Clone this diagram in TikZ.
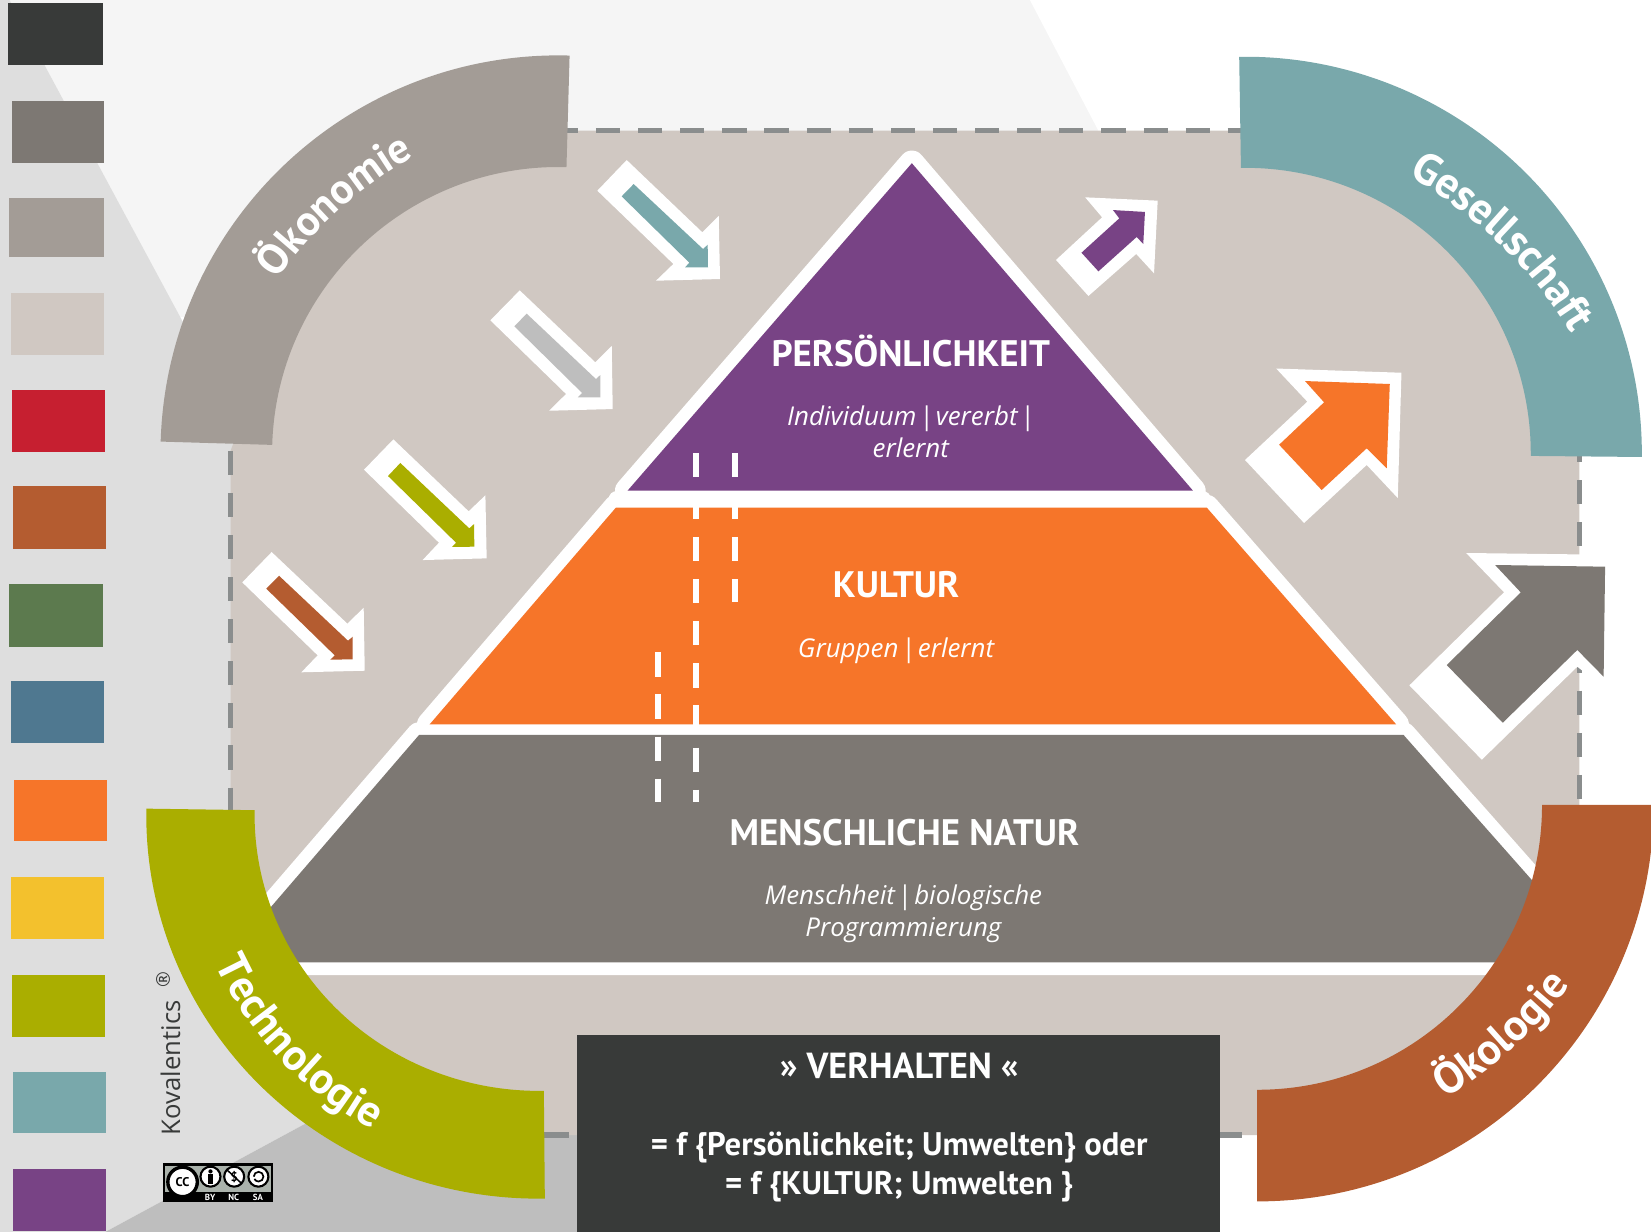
\documentclass[tikz,border=0pt]{standalone}
\usepackage{fontspec}
\setmainfont{PT Sans}
\newfontfamily\subfont{Open Sans}
\usetikzlibrary{decorations.text}
\definecolor{ink}{HTML}{383A39}
\definecolor{stone}{HTML}{7D7873}
\definecolor{taupe}{HTML}{A39C96}
\definecolor{sand}{HTML}{D0C8C2}
\definecolor{signal}{HTML}{C61F30}
\definecolor{rust}{HTML}{B45C30}
\definecolor{moss}{HTML}{5C7A4E}
\definecolor{steel}{HTML}{4F7890}
\definecolor{tangerine}{HTML}{F67529}
\definecolor{sun}{HTML}{F3C12D}
\definecolor{olive}{HTML}{AAAE00}
\definecolor{teal}{HTML}{79A8AB}
\definecolor{plum}{HTML}{784385}
\definecolor{dashgray}{HTML}{8A8D8D}
\definecolor{midgray}{HTML}{BEBEBE}
\definecolor{palegray}{HTML}{DEDEDE}
\definecolor{paper}{HTML}{F5F5F5}
\definecolor{badgegray}{HTML}{AAB2AB}
\newcommand{\vbar}{\hspace{.1em}|\hspace{.1em}}
\tikzset{
border/.style={draw=dashgray, line width=2.5pt, dash pattern=on 11.5pt off 8.5pt}, % frame round the sand field
layerline/.style={draw=white, line width=12pt, line join=round},
layerband/.style={draw=white, line cap=round},
whitedash/.style={draw=white, line width=2.8pt, dash pattern=on 11.5pt off 8.5pt},
title/.style={text=white, font=\bfseries\fontsize{17.5}{20}\selectfont, inner sep=0pt},
subtitle/.style={text=white, align=center, font=\subfont\itshape\fontsize{12.3}{15}\selectfont, inner sep=0pt},
boxtext/.style={text=white, align=center, font=\bfseries\fontsize{15.5}{18.5}\selectfont, inner sep=0pt},
arclabel/.style 2 args={decorate, decoration={text along path, text align=center, text={|\color{white}\bfseries\fontsize{#1}{24}\selectfont|#2}}},
badgeicon/.style={circle, draw=black, fill=white, line width=1pt, minimum size=9.5pt, inner sep=0pt},
badgetext/.style={text=white, font=\bfseries\fontsize{4.2}{5}\selectfont, inner sep=0pt},
}
\begin{document}
\begin{tikzpicture}[x=0.5pt, y=-0.5pt]
\useasboundingbox (0,0) rectangle (1568,1170);
% backdrop
\fill[paper] (9,0) -- (978,0) -- (1043,124) -- (300,300) -- (171,301) -- cycle;
\fill[palegray] (0,0) -- (9,0) -- (260,466) -- (260,1040) -- (294,1065) -- (100,1170) -- (0,1170) -- cycle;
\fill[midgray] (100,1170) -- (294,1065) -- (548,1065) -- (548,1170) -- cycle;
\fill[sand] (538,124) -- (1180,124) -- (1409,204) -- (1500,430) -- (1500,765) -- (1420,991) -- (1195,1078)
  -- (517,1078) -- (285,1000) -- (219,768) -- (219,428) -- (304,204) -- cycle;
\draw[border] (526,124) -- (1180,124);
\draw[border] (1500,416) -- (1500,780);
\draw[border] (219,428) -- (219,775);
\draw[border] (517,1078) -- (1180,1078);
% pyramid
\path[layerline] (866,155) -- (1133,466) -- (596,466) -- cycle;
\path[layerline] (585,482) -- (1146,482) -- (1326,688) -- (408,688) -- cycle;
\path[layerline] (398,698) -- (1333,698) -- (1524,914) -- (212,914) -- cycle;
\draw[layerband, line width=8pt] (586,474) -- (1142,474);
\draw[layerband, line width=5.5pt] (395,693) -- (1336,693);
\fill[plum] (866,155) -- (1133,466) -- (596,466) -- cycle;
\fill[tangerine] (585,482) -- (1146,482) -- (1326,688) -- (408,688) -- cycle;
\fill[stone] (398,698) -- (1333,698) -- (1524,914) -- (212,914) -- cycle;
\draw[whitedash] (661,430) -- (661,762);
\draw[whitedash] (698,430) -- (698,572);
\draw[whitedash] (624.6,619.5) -- (624.6,762);
\node[title] (persona) at (865,333) {PERSÖNLICHKEIT};
\node[subtitle] (personasub) at (865,410) {Individuum\vbar vererbt\vbar\\erlernt};
\node[title] (culture) at (851,555) {KULTUR};
\node[subtitle] (culturesub) at (851,618) {Gruppen\vbar erlernt};
\node[title] (nature) at (859,791) {MENSCHLICHE NATUR};
\node[subtitle] (naturesub) at (858,868) {Menschheit\vbar biologische\\Programmierung};
% arrows into the pyramid
\fill[white] (595.2,152) -- (667,220.6) -- (682.6,205.1) -- (683.8,265) -- (623,266.6) -- (639.5,250.7) -- (567.3,181.1) -- cycle;
\fill[teal] (601.8,174.8) -- (667.7,236.5) -- (672.1,232.4) -- (672.4,253.9) -- (650.6,253.9) -- (654.7,249.5) -- (590.4,186.5) -- cycle;
\fill[white] (493.6,275.8) -- (565.4,344.1) -- (581,328.6) -- (581.9,388.5) -- (521.4,390.1) -- (537.6,374.2) -- (465.7,304.2) -- cycle;
\fill[midgray] (500.2,297.9) -- (566,360) -- (570.1,356.2) -- (570.1,377.4) -- (548.7,377.4) -- (552.8,373.2) -- (488.5,309.9) -- cycle;
\fill[white] (373.6,417.3) -- (445.1,485.6) -- (461,470.4) -- (462.2,530.3) -- (401.4,531.9) -- (416.9,515.4) -- (345.7,446.1) -- cycle;
\fill[olive] (380.2,439.7) -- (445.7,501.8) -- (450.2,497.7) -- (450.5,519.2) -- (429.3,519.5) -- (433.1,515.4) -- (368.5,452.1) -- cycle;
\fill[white] (258,524.3) -- (329.9,592.3) -- (345.4,577.2) -- (346.4,637) -- (286.2,638.5) -- (301.7,622.4) -- (230.1,553.1) -- cycle;
\fill[rust] (265,546.8) -- (330.5,608.5) -- (335,604.7) -- (335,626.2) -- (313.7,626.5) -- (317.9,622.4) -- (252.9,559.1) -- cycle;
% arrows out of the pyramid
\fill[white] (1030.6,187.4) -- (1099.5,190.6) -- (1096,259.6) -- (1079.1,241.2) -- (1033.7,281.1) -- (1002.9,246.9) -- (1046.7,206.4) -- cycle;
\fill[plum] (1057,199.5) -- (1087.4,201.3) -- (1085.8,231.7) -- (1079.5,225.1) -- (1043.2,257.7) -- (1027.1,240) -- (1063,207.4) -- cycle;
\fill[white] (1212,350) -- (1331,354) -- (1327.5,473) -- (1298,441.6) -- (1238.5,496.7) -- (1182.4,436.9) -- (1241.6,381.5) -- cycle;
\fill[tangerine] (1239.4,361.9) -- (1319.9,364.7) -- (1317,444.8) -- (1298,425.8) -- (1255.2,465.4) -- (1214.8,422.4) -- (1257.5,382.1) -- cycle;
\fill[white] (1392.4,525.2) -- (1538,527) -- (1538,665) -- (1498,633.2) -- (1407.3,721.5) -- (1338.5,650.9) -- (1428.4,562.5) -- cycle;
\fill[stone] (1419.9,536.6) -- (1524.4,538.2) -- (1523,642.7) -- (1498,617.3) -- (1427.2,686.4) -- (1374,631.6) -- (1444.3,562.6) -- cycle;
% the four surroundings
\fill[taupe] (530.4,430.6) ++(181.7:378) arc[start angle=181.7, end angle=271.6, radius=378]
  -- ++(271.6:-106) arc[start angle=271.6, end angle=181.7, radius=272] -- cycle;
\path[arclabel={20.3}{Ökonomie}] (589.6,497) ++(190:400) arc[start angle=190, end angle=266, radius=400];
\fill[teal] (1182.8,430.4) ++(269.1:376.5) arc[start angle=269.1, end angle=360.55, radius=376.5]
  -- ++(0.55:-105.5) arc[start angle=360.55, end angle=269.1, radius=271] -- cycle;
\path[arclabel={21}{Gesellschaft}] (1133,534) ++(279:420) arc[start angle=279, end angle=349, radius=420];
\fill[olive] (139,768) arc[start angle=181, end angle=89, x radius=372, y radius=364]
  -- (516.5,1036) arc[start angle=89, end angle=181, x radius=270, y radius=262] -- cycle;
\path[arclabel={21}{Technologie}] (510.8,774.5) ++(175.6:337) arc[start angle=175.6, end angle=97.6, radius=337];
\fill[rust] (1194,764.5) ++(0:376.5) arc[start angle=0, end angle=90, radius=376.5]
  -- (1194,1035) arc[start angle=90, end angle=0, radius=270.5] -- cycle;
\path[arclabel={21}{Ökologie}] (1147.6,677) ++(82.7:430) arc[start angle=82.7, end angle=12.7, radius=430];
% formula box
\fill[ink] (548,983) rectangle (1159,1170);
\node[boxtext, font=\bfseries\fontsize{17.2}{20}\selectfont] (behaviour) at (854,1012) {» VERHALTEN «};
\node[boxtext] (formula) at (854,1108.5) {= f \{Persönlichkeit; Umwelten\} oder\\= f \{KULTUR; Umwelten \}};
% colour key
\foreach \xa/\ya/\xb/\yb/\swatch in {8/3/98/62/ink, 11/96/99/155/stone, 9/188/99/244/taupe, 10/278/99/337/sand,
  11/370/100/429/signal, 12/462/101/521/rust, 9/555/98/614/moss, 10/647/99/706/steel, 13/741/102/799/tangerine,
  10/833/99/892/sun, 11/926/100/985/olive, 12/1018/101/1076/teal, 12/1110/101/1169/plum}
  \fill[\swatch] (\xa,\ya) rectangle (\xb,\yb);
% credit and badge
\node[text=ink, rotate=90, inner sep=0pt, font=\subfont\fontsize{12.2}{14}\selectfont] (brand) at (162,1014) {Kovalentics};
\node[text=ink, rotate=90, inner sep=0pt, font=\subfont\fontsize{9}{10}\selectfont] (regmark) at (155,930) {®};
\fill[black] (155,1105) rectangle (259,1142);
\fill[badgegray] (157,1107) rectangle (257,1132);
\node[circle, draw=black, fill=white, line width=1.6pt, minimum size=14pt, inner sep=0pt, font=\bfseries\fontsize{6}{6}\selectfont] (ccmark) at (173.4,1122.5) {CC};
\node[badgeicon] (bymark) at (199.9,1117.5) {};
\fill[black] (199.9,1112.5) circle (1pt);
\fill[black] (197.6,1115.2) rectangle (202.2,1124);
\node[badgeicon, font=\bfseries\fontsize{6}{6}\selectfont] (ncmark) at (222.4,1117.5) {\$};
\draw[black, line width=0.7pt] (215.5,1111) -- (229.5,1124);
\node[badgeicon] (samark) at (245.4,1117.5) {};
\draw[black, line width=0.8pt] (241,1117.5) arc[start angle=180, end angle=510, radius=4.6];
\node[badgetext] (bylabel) at (199.5,1137.5) {BY};
\node[badgetext] (nclabel) at (222,1137.5) {NC};
\node[badgetext] (salabel) at (245,1137.5) {SA};
\end{tikzpicture}
\end{document}
